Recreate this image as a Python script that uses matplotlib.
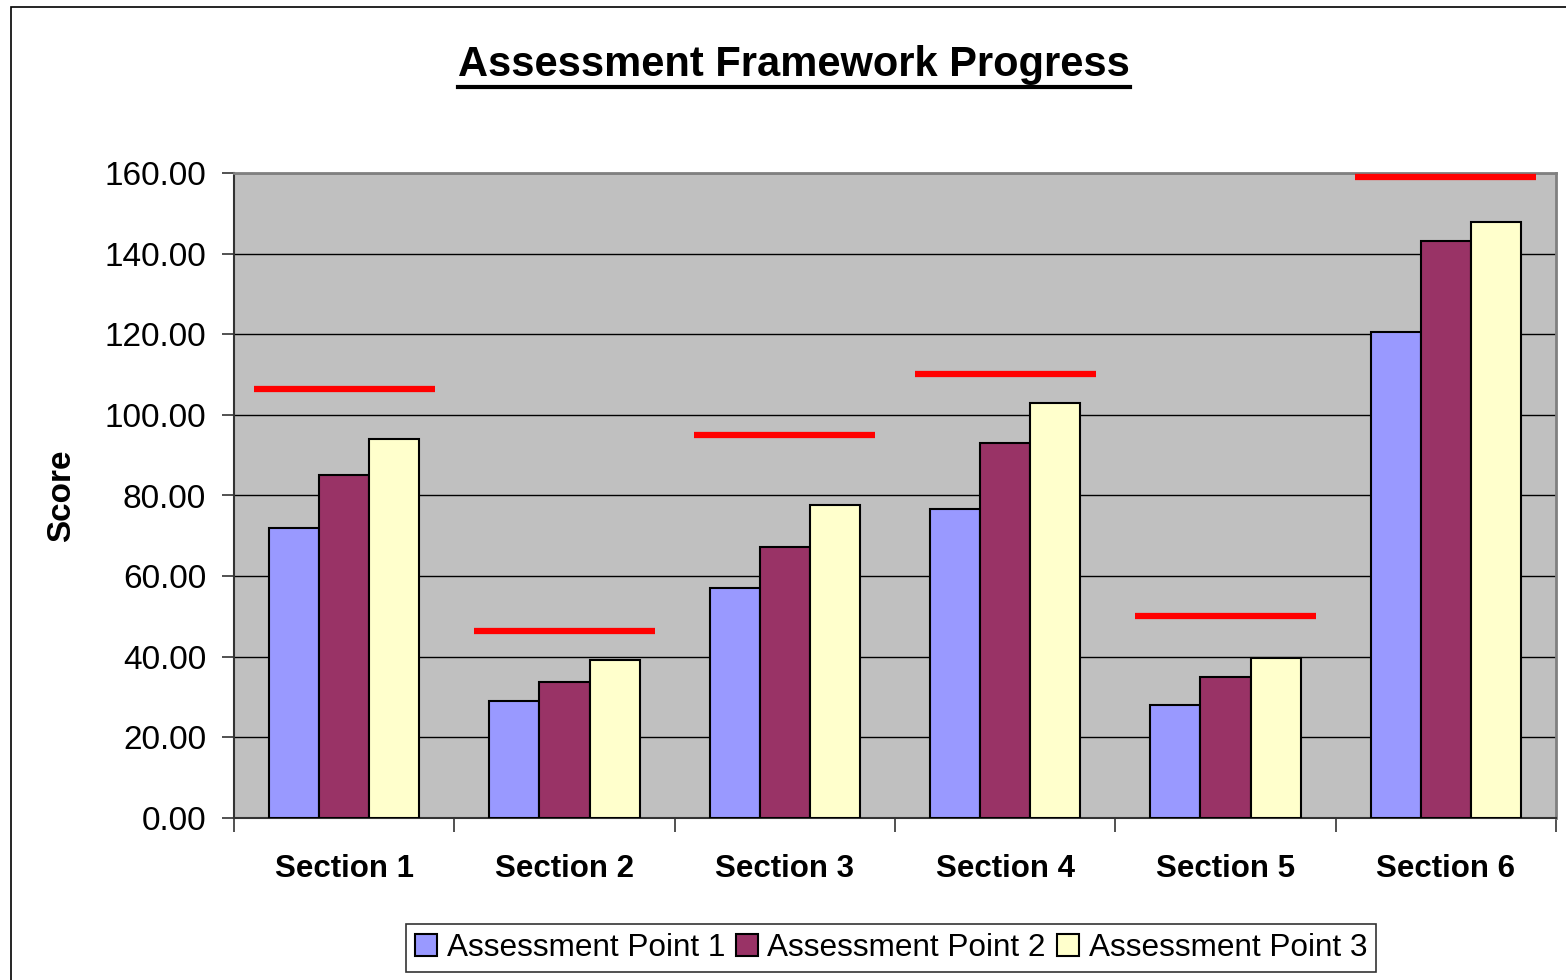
import matplotlib
matplotlib.use("Agg")
import matplotlib.pyplot as plt
import numpy as np
from matplotlib.patches import Rectangle
from matplotlib.lines import Line2D

plt.rcParams['font.family'] = ['Liberation Sans', 'DejaVu Sans']

sections = ['Section 1', 'Section 2', 'Section 3', 'Section 4', 'Section 5', 'Section 6']
series_names = ['Assessment Point 1', 'Assessment Point 2', 'Assessment Point 3']
point1 = [72.0, 29.0, 57.0, 76.7, 28.0, 120.6]
point2 = [85.1, 33.7, 67.2, 93.0, 35.0, 143.2]
point3 = [94.0, 39.2, 77.7, 103.0, 39.7, 147.9]
targets = [106.5, 46.4, 95.0, 110.2, 50.1, 159.0]
colors = ['#9999FF', '#993366', '#FFFFCC']

fig = plt.figure(figsize=(15.66, 9.8), dpi=100)
# outer chart frame
fig.patches.append(Rectangle((11 / 1566, -0.1), 1.2, 1 - 7 / 980 + 0.1,
                             transform=fig.transFigure, fill=False,
                             edgecolor='black', linewidth=1.2))

ax = fig.add_axes([234 / 1566, 1 - 818 / 980, (1556 - 234) / 1566, (818 - 173) / 980])
ax.set_facecolor('#C0C0C0')

x = np.arange(len(sections))
width = 0.227
for i, vals in enumerate([point1, point2, point3]):
    ax.bar(x + (i - 1) * width, vals, width, color=colors[i], edgecolor='black',
           linewidth=1.5, label=series_names[i], zorder=3)

# target markers
ax.hlines(targets, x - 0.41, x + 0.41, colors='#FF0000', linewidth=4.5, zorder=4)

ax.set_xlim(-0.5, len(sections) - 0.5)
ax.set_ylim(0, 160)
ax.set_yticks(np.arange(0, 161, 20))
ax.set_yticklabels(['{:.2f}'.format(v) for v in np.arange(0, 161, 20)], fontsize=24)
ax.yaxis.grid(True, color='black', linewidth=1.0, zorder=1)
ax.set_axisbelow(True)

ax.set_xticks(x)
ax.set_xticklabels(sections, fontsize=22.5, fontweight='bold')
ax.tick_params(axis='x', length=0, pad=26)
ax.set_xticks(np.arange(-0.5, len(sections)), minor=True)
ax.tick_params(axis='x', which='minor', length=10, width=1.2, color='#333333')
ax.tick_params(axis='y', length=9, width=1.2, color='#333333', pad=11)

for side in ['top', 'right']:
    ax.spines[side].set_color('#808080')
    ax.spines[side].set_linewidth(2)
ax.spines['left'].set_color('#333333')
ax.spines['bottom'].set_color('#333333')
ax.spines['left'].set_linewidth(1.5)
ax.spines['bottom'].set_linewidth(1.5)

fig.text(62 / 1566, 1 - 496 / 980, 'Score', rotation=90, fontsize=24,
         fontweight='bold', ha='center', va='center')

title = fig.text(794 / 1566, 1 - 65 / 980, 'Assessment Framework Progress', fontsize=30,
                 fontweight='bold', ha='center', va='center')

leg = fig.legend(loc='center', bbox_to_anchor=(891 / 1566, 1 - 948 / 980), ncol=3,
                 fontsize=22.7, frameon=True, fancybox=False, edgecolor='black',
                 handlelength=0.7, handleheight=0.7, handletextpad=0.3,
                 columnspacing=0.35, borderpad=0.3, borderaxespad=0.2)
leg.get_frame().set_linewidth(1.2)

# underline the title
fig.canvas.draw()
bb = title.get_window_extent().transformed(fig.transFigure.inverted())
fig.add_artist(Line2D([bb.x0, bb.x1], [bb.y0 - 0.002, bb.y0 - 0.002],
                      transform=fig.transFigure, color='black', linewidth=3))

fig.savefig('out.png', dpi=100)
